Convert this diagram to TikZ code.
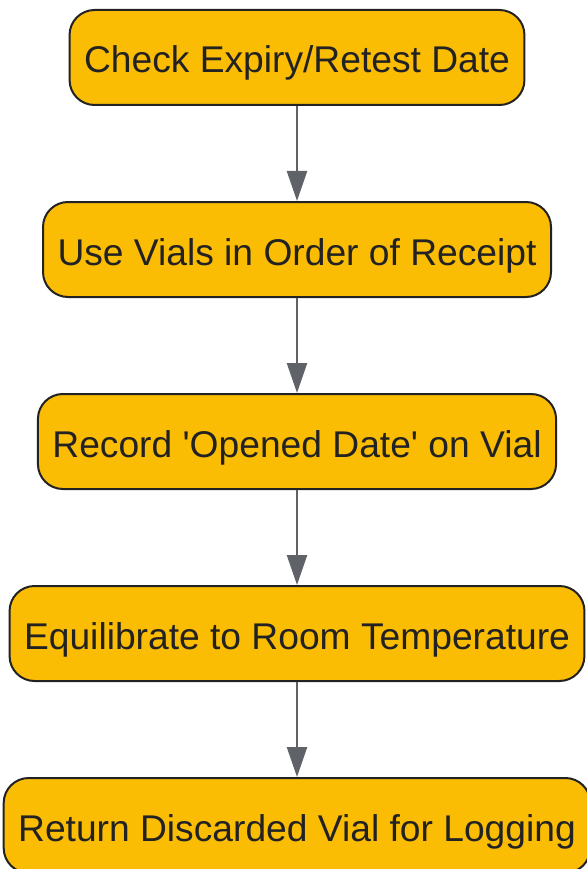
\documentclass[tikz,border=0pt]{standalone}
\usepackage{fontspec}
\setmainfont{Liberation Sans}[Ligatures=TeXOff]
\usepackage{tikz}
\usetikzlibrary{positioning}
\usetikzlibrary{arrows.meta}

\definecolor{stepfill}{HTML}{FBBC04}
\definecolor{stepline}{HTML}{222222}
\definecolor{flowgray}{HTML}{5F6368}

\begin{document}
\begin{tikzpicture}[x=1pt, y=-1pt,
        stepbox/.style={rectangle, rounded corners=25pt, draw=stepline, fill=stepfill, line width=2pt, minimum height=95pt, inner xsep=14.5pt, text height=33pt, text depth=2pt, text=stepline, font=\fontsize{37.2}{44}\selectfont},
        flow/.style={draw=flowgray, line width=2.5pt, -{Triangle[width=20pt, length=30pt]}}
      ]
        \useasboundingbox (0, 0) rectangle (586, 869);

        \node[stepbox]  (expiry)   at(297, 57.5)                    {Check Expiry/Retest Date};
        \node[stepbox]  (receipt)  [below=95pt of expiry]           {Use Vials in Order of Receipt};
        \node[stepbox]  (opened)   [below=95pt of receipt]          {Record 'Opened Date' on Vial};
        \node[stepbox]  (equil)    [below=95pt of opened]           {Equilibrate to Room Temperature};
        \node[stepbox]  (discard)  [below=95pt of equil]            {Return Discarded Vial for Logging};

        \draw[flow]  (expiry.south) -- (receipt.north);
        \draw[flow]  (receipt.south) -- (opened.north);
        \draw[flow]  (opened.south) -- (equil.north);
        \draw[flow]  (equil.south) -- (discard.north);
      \end{tikzpicture}
\end{document}
